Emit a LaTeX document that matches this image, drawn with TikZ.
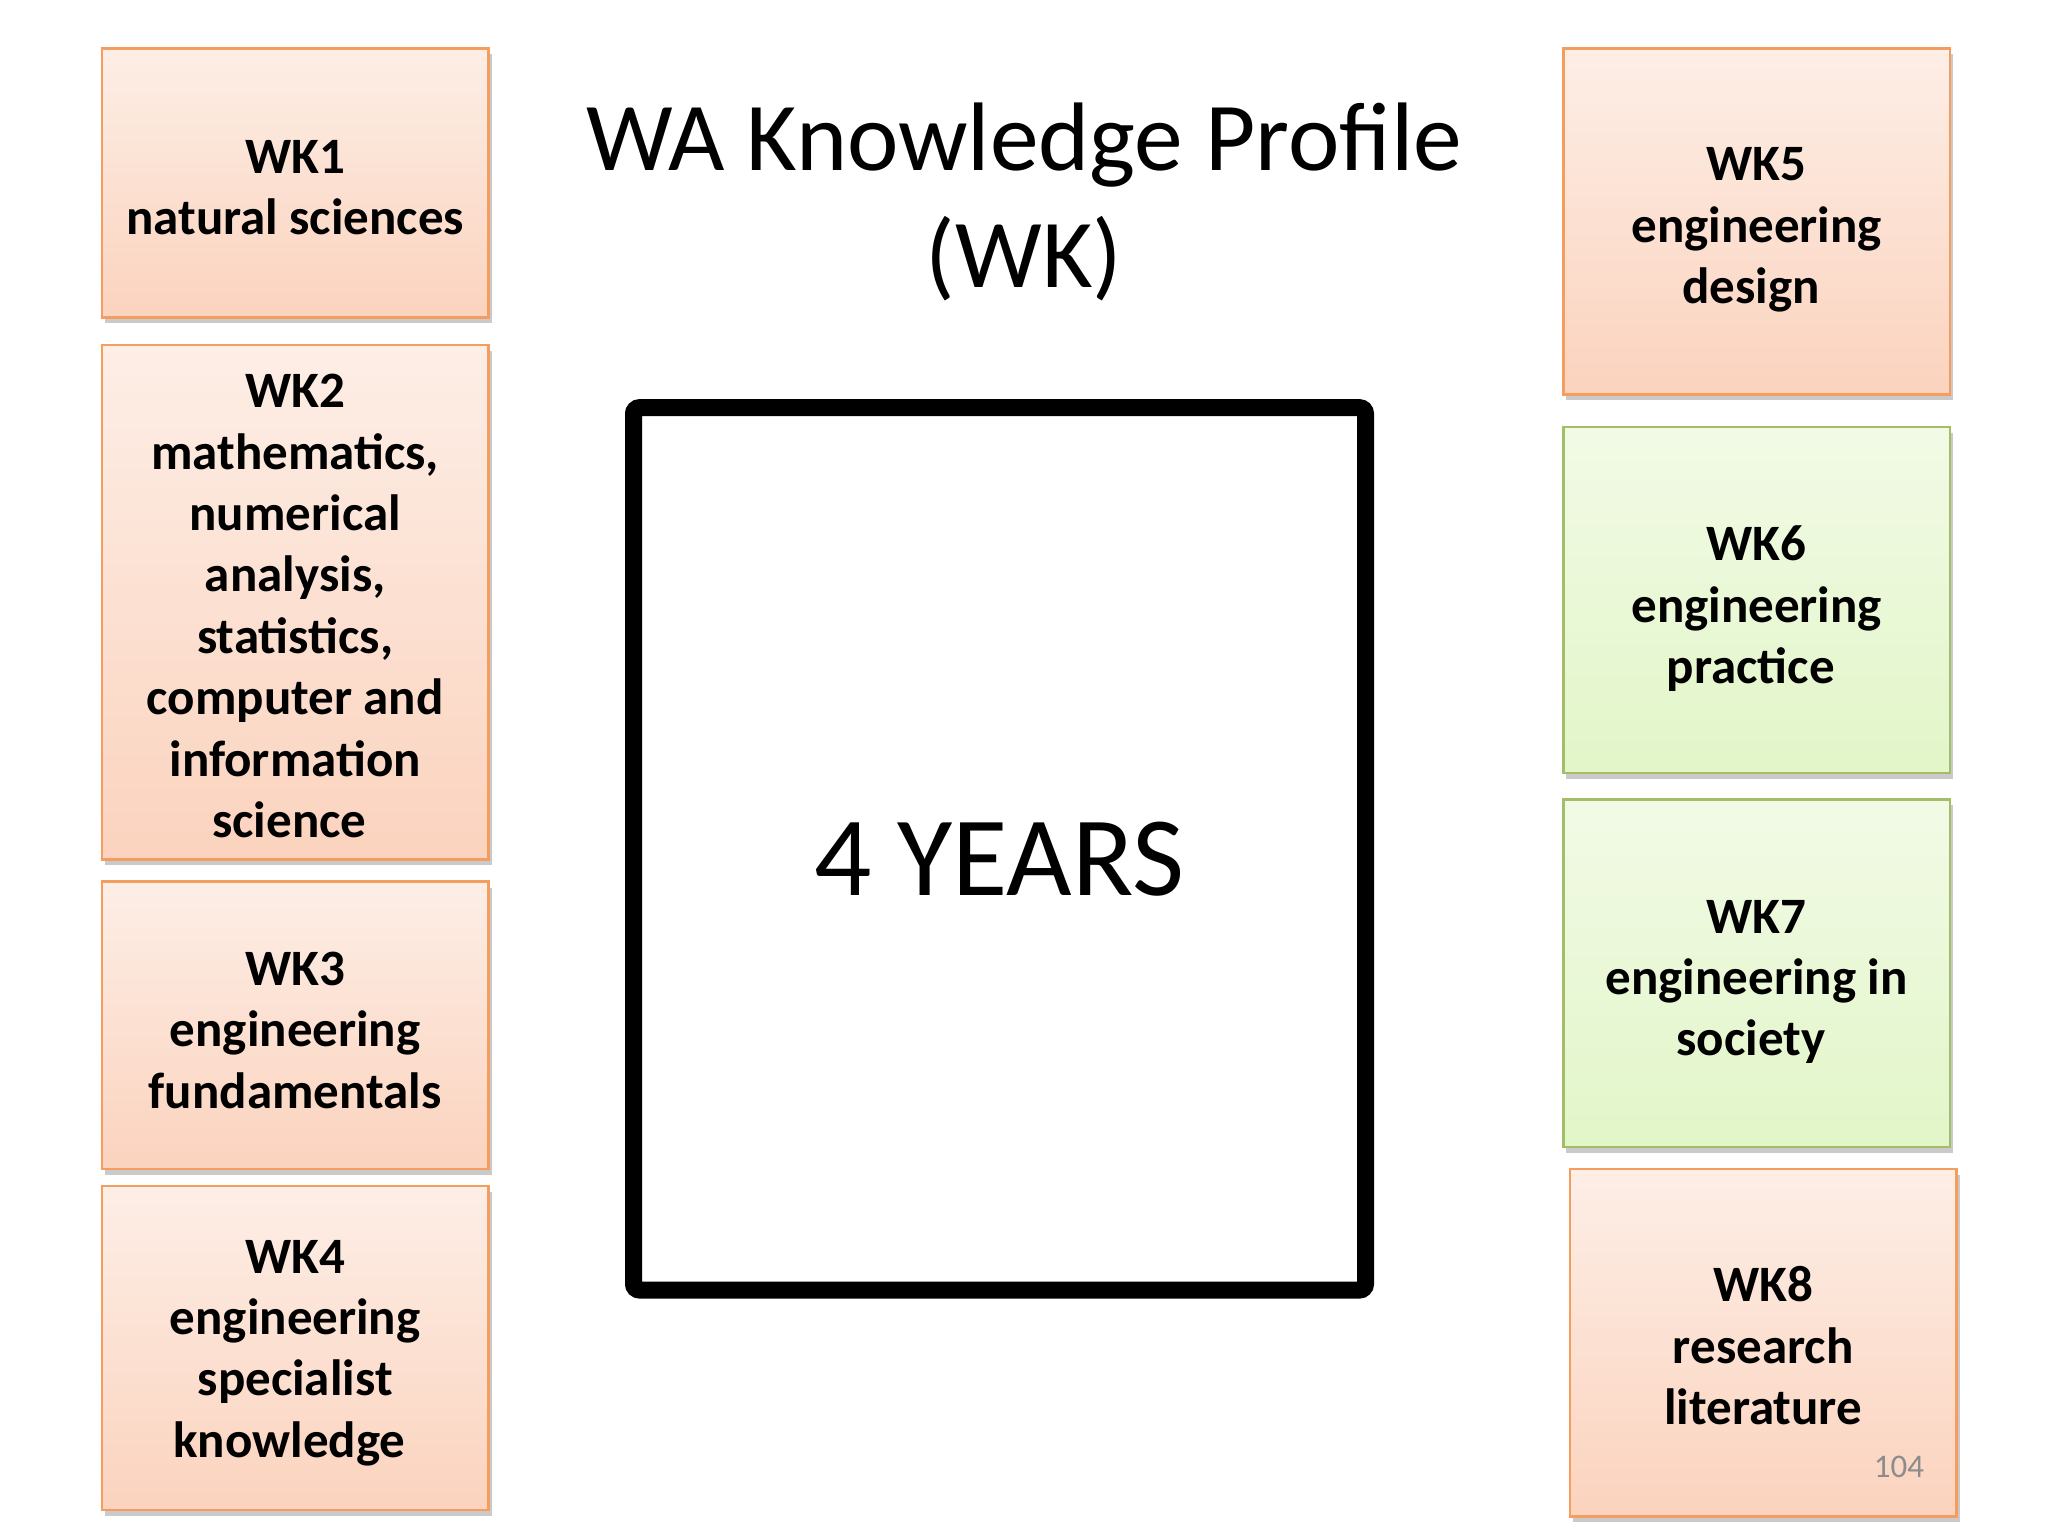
\documentclass[tikz,border=0pt]{standalone}
\usepackage{fontspec}
\setmainfont{Carlito}
\usetikzlibrary{shadows}
\definecolor{peachtop}{HTML}{FDEEE6}
\definecolor{peachbot}{HTML}{FBD3BE}
\definecolor{peachline}{HTML}{F59D5E}
\definecolor{greentop}{HTML}{F2FAE6}
\definecolor{greenbot}{HTML}{E2F6C8}
\definecolor{greenline}{HTML}{A3BE68}
\definecolor{pagegray}{HTML}{8C8C8C}
\newcommand{\trsp}{\hspace*{0.23em}}
\tikzset{
  wkbox/.style={draw=peachline, line width=1.2pt, top color=peachtop, bottom color=peachbot,
    inner sep=0pt,
    drop shadow={shadow xshift=1.5pt, shadow yshift=-3pt, opacity=0.35, fill=black!60}},
  wkgreen/.style={wkbox, draw=greenline, top color=greentop, bottom color=greenbot},
  wktext/.style={align=center, font=\fontsize{25.5}{30.7}\selectfont\bfseries, inner sep=0pt},
  yearbox/.style={draw=black, line width=8.5pt, rounded corners=3pt},
}
\begin{document}
\begin{tikzpicture}[x=0.5pt, y=-0.5pt]
\useasboundingbox (0,0) rectangle (2048,1536);
\node[wkbox, minimum width=193.3pt, minimum height=134.5pt] (wk1) at (295.2,182.9) {};
\node[wkbox, minimum width=193.3pt, minimum height=257.3pt] (wk2) at (295.2,602.1) {};
\node[wkbox, minimum width=193.3pt, minimum height=143.7pt] (wk3) at (295.2,1025.3) {};
\node[wkbox, minimum width=193.3pt, minimum height=162pt] (wk4) at (295.2,1348) {};
\node[wkbox, minimum width=193.3pt, minimum height=173pt] (wk5) at (1756.7,221.4) {};
\node[wkgreen, minimum width=193.3pt, minimum height=173pt] (wk6) at (1756.7,600.2) {};
\node[wkgreen, minimum width=193.3pt, minimum height=173.7pt] (wk7) at (1756.7,973) {};
\node[wkbox, minimum width=193.3pt, minimum height=173.7pt] (wk8) at (1763.2,1342.7) {};
\node[wktext] (t1) at ([yshift=-2.5pt]wk1.center) {WK1\\natural sciences};
\node[wktext] (t2) at ([yshift=-2pt]wk2.center) {WK2\\mathematics,\\numerical\\analysis,\\statistics,\\computer and\\information\\science\trsp};
\node[wktext] (t3) at ([yshift=-2.5pt]wk3.center) {WK3\\engineering\\fundamentals};
\node[wktext] (t4) at ([yshift=-2.5pt]wk4.center) {WK4\\engineering\\specialist\\knowledge\trsp};
\node[wktext] (t5) at ([yshift=-4.3pt]wk5.center) {WK5\\engineering\\design\trsp};
\node[wktext] (t6) at ([yshift=-4.3pt]wk6.center) {WK6\\engineering\\practice\trsp};
\node[wktext] (t7) at ([yshift=-4.5pt]wk7.center) {WK7\\engineering in\\society\trsp};
\node[wktext] (t8) at ([yshift=-1.5pt]wk8.center) {WK8\\research\\literature};
\node[font=\fontsize{16.5}{19}\selectfont, text=pagegray] (page) at (1899,1467) {104};
\node[align=center, font=\fontsize{48.7}{58.8}\selectfont] (title) at (1024,202) {WA Knowledge Profile\\(WK)};
\draw[yearbox] (633.5,407.7) rectangle (1365.5,1290);
\node[font=\fontsize{56.6}{68}\selectfont] (years) at (999.5,859) {4 YEARS};
\end{tikzpicture}
\end{document}
